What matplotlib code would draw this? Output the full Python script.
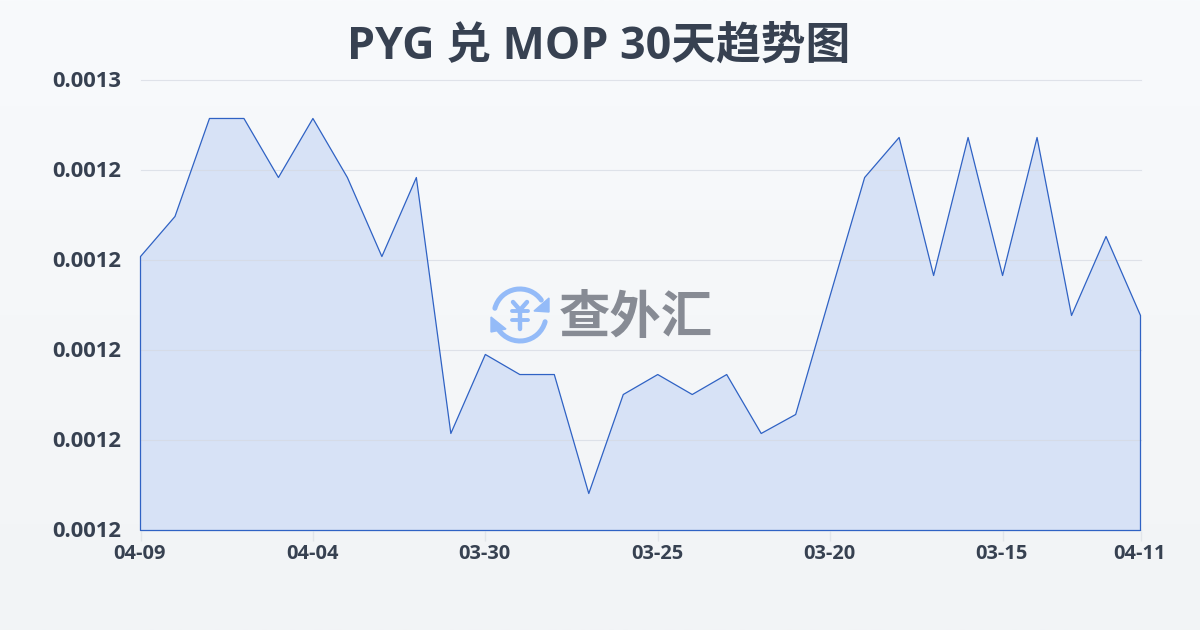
import numpy as np
import matplotlib
matplotlib.use('Agg')
import matplotlib.pyplot as plt
from matplotlib.patches import Arc, Polygon
from matplotlib.transforms import ScaledTranslation

plt.rcParams['font.family'] = ['Open Sans', 'Noto Sans CJK SC', 'DejaVu Sans']

title = 'PYG 兑 MOP 30天趋势图'
dates = ['04-09', '04-08', '04-07', '04-06', '04-05', '04-04', '04-03', '04-02', '04-01', '03-31',
         '03-30', '03-29', '03-28', '03-27', '03-26', '03-25', '03-24', '03-23', '03-22', '03-21',
         '03-20', '03-19', '03-18', '03-17', '03-16', '03-15', '03-14', '03-13', '03-12', '04-11']
rates = [0.00123044, 0.00123489, 0.00124578, 0.00124578, 0.00123922, 0.00124578,
         0.00123922, 0.00123044, 0.00123922, 0.00121078, 0.00121956, 0.00121733,
         0.00121733, 0.00120411, 0.00121511, 0.00121733, 0.00121511, 0.00121733,
         0.00121078, 0.00121289, 0.00122611, 0.00123922, 0.00124367, 0.00122833,
         0.00124367, 0.00122833, 0.00124367, 0.00122389, 0.00123267, 0.00122389]
y_ticks = [0.00120, 0.00121, 0.00122, 0.00123, 0.00124, 0.00125]
y_labels = ['0.0012', '0.0012', '0.0012', '0.0012', '0.0012', '0.0013']
x_ticks = [0, 5, 10, 15, 20, 25, 29]

text_col = '#374151'
line_col = '#2f62c4'

fig = plt.figure(figsize=(12, 6.3), dpi=100)

# background gradient
bg = fig.add_axes([0, 0, 1, 1], zorder=0)
grad = np.linspace(0, 1, 256).reshape(-1, 1, 1)
top = np.array([0xf8, 0xfa, 0xfc]) / 255
bot = np.array([0xf2, 0xf4, 0xf6]) / 255
bg.imshow(top + (bot - top) * grad, aspect='auto', extent=[0, 1, 0, 1])
bg.axis('off')

ax = fig.add_axes([140.5 / 1200, 1 - 530.5 / 630, 1000 / 1200, 450 / 630], zorder=1)
ax.patch.set_alpha(0)
x = np.arange(len(rates))
ax.fill_between(x, rates, y_ticks[0], facecolor='#d7e2f6', edgecolor='none', zorder=1)
ax.grid(axis='y', color='#d5d9e2', linewidth=0.8, alpha=0.7, zorder=2, clip_on=False)
ax.set_axisbelow(False)
ax.fill_between(x, rates, y_ticks[0], facecolor='none', edgecolor=line_col, linewidth=0.9, zorder=3, clip_on=False)
ax.set_xlim(0, len(rates) - 1)
ax.set_ylim(y_ticks[0], y_ticks[-1])
ax.set_yticks(y_ticks)
ax.set_yticklabels(y_labels, fontsize=15.8, fontweight='bold', color=text_col)
ax.set_xticks(x_ticks)
ax.set_xticklabels([dates[i] for i in x_ticks], fontsize=14.4, fontweight='bold', color=text_col)
ax.tick_params(axis='y', length=0, pad=14)
ax.tick_params(axis='x', length=7, width=1, color='#e2e5ea', pad=3)
for s in ax.spines.values():
    s.set_visible(False)
# nudge labels a pixel
for lab in ax.get_yticklabels():
    lab.set_transform(lab.get_transform() + ScaledTranslation(0, 1 / 100, fig.dpi_scale_trans))
for lab in ax.get_xticklabels():
    lab.set_transform(lab.get_transform() + ScaledTranslation(-0.7 / 100, 0, fig.dpi_scale_trans))

# title and watermark in pixel coordinates
ov = fig.add_axes([0, 0, 1, 1], zorder=2)
ov.set_xlim(0, 1200)
ov.set_ylim(630, 0)
ov.axis('off')
ov.text(599, 47.5, title, fontsize=32.2, fontweight='bold', color=text_col, ha='center', va='center')

blue = '#94bbf8'
cx, cy, r = 520, 315, 26
ov.add_patch(Arc((cx, cy), 2 * r, 2 * r, theta1=195, theta2=325, color=blue, linewidth=3.6, capstyle='round'))
ov.add_patch(Arc((cx, cy), 2 * r, 2 * r, theta1=15, theta2=145, color=blue, linewidth=3.6, capstyle='round'))
ov.add_patch(Polygon([[549, 298], [549, 312], [534, 311]], closed=True, color=blue))
ov.add_patch(Polygon([[491, 317], [491, 332], [506, 329]], closed=True, color=blue))
ov.plot([513, 520, 527], [302, 310, 302], color=blue, linewidth=3.2, solid_capstyle='round')
ov.plot([520, 520], [310, 329], color=blue, linewidth=3.2, solid_capstyle='round')
ov.plot([512, 528], [311, 311], color=blue, linewidth=2.8, solid_capstyle='round')
ov.plot([512, 528], [320, 320], color=blue, linewidth=2.8, solid_capstyle='round')
ov.text(636, 318, '查外汇', fontsize=37, fontweight='heavy', color='#878b94', ha='center', va='center',
        family=['Noto Sans CJK SC'])

fig.savefig('out.png', dpi=100)
